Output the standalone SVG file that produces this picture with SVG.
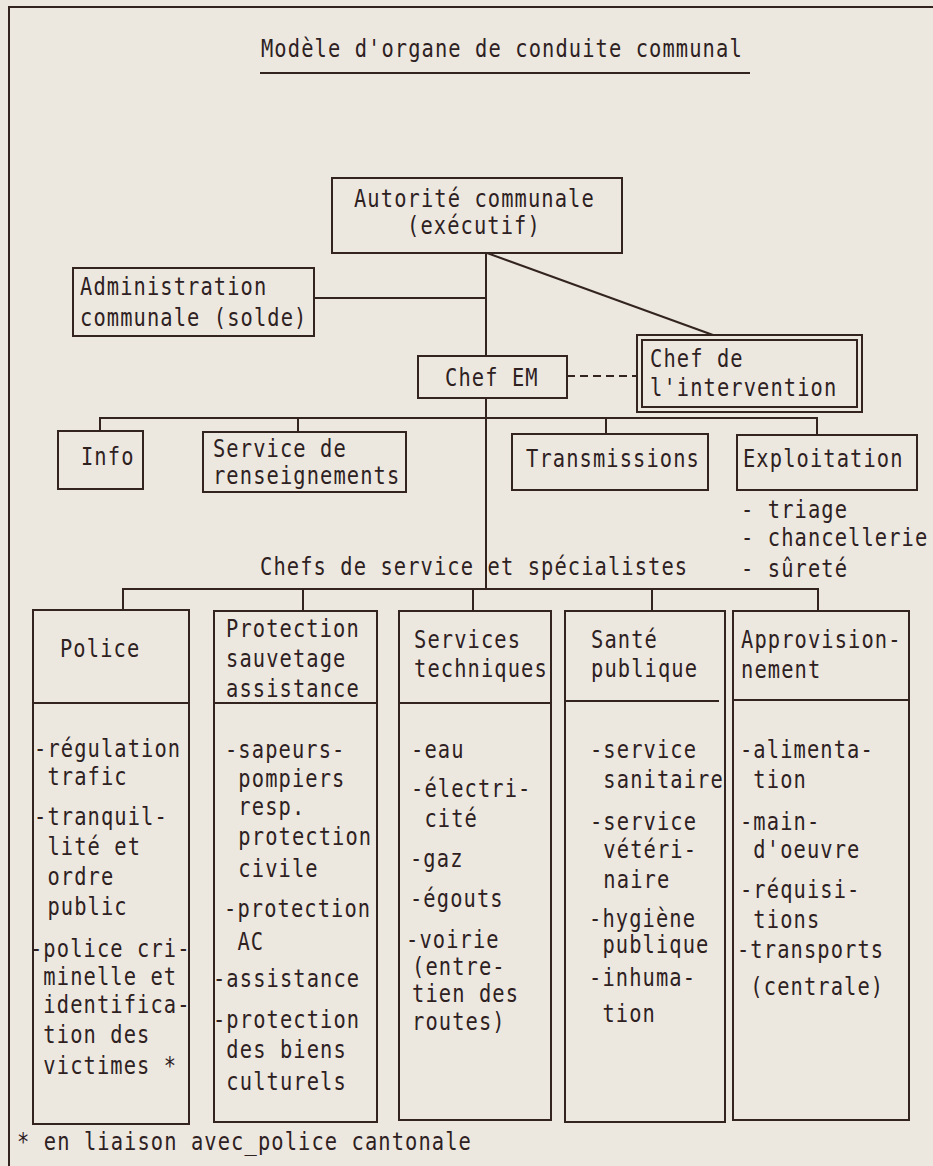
<svg xmlns="http://www.w3.org/2000/svg" width="933" height="1166" viewBox="0 0 933 1166" xml:space="preserve">
<style>
.t{font-family:"DejaVu Sans Mono","Liberation Mono",monospace;font-size:24px;fill:#2e211f;letter-spacing:1.3px;white-space:pre;transform:scaleX(0.85);transform-box:fill-box;transform-origin:0 0}
.b{fill:none;stroke:#33241f;stroke-width:2}
.c{fill:none;stroke:#33241f;stroke-width:2}
.d{stroke-dasharray:8 5}
</style>
<rect x="0" y="0" width="933" height="1166" fill="#ece8df"/>
<g id="frame"><path class="b" d="M9,1166 V7 H933"/></g>
<g id="title">
<text class="t" x="261" y="57">Modèle d'organe de conduite communal</text>
<path class="b" d="M260,73 H750"/>
</g>
<g id="connectors">
<path class="c" d="M486,253 V356 M486,398 V589"/>
<path class="c" d="M314,298 H486"/>
<path class="c" d="M487,253 L713,335"/>
<path class="c d" d="M567,376 H637"/>
<path class="c" d="M100,431 V418 H817 V435 M298,418 V432 M606,418 V434"/>
<path class="c" d="M123,610 V589 H818 V611 M303,589 V611 M473,589 V611 M652,589 V611"/>
</g>
<g id="autorite">
<rect class="b" x="332" y="178" width="290" height="75"/>
<text class="t" x="354" y="207">Autorité communale</text>
<text class="t" x="407" y="234">(exécutif)</text>
</g>
<g id="administration">
<rect class="b" x="73" y="268" width="241" height="68"/>
<text class="t" x="80" y="295">Administration</text>
<text class="t" x="80" y="326">communale (solde)</text>
</g>
<g id="chef-em">
<rect class="b" x="418" y="356" width="149" height="42"/>
<text class="t" x="445" y="386">Chef EM</text>
</g>
<g id="chef-intervention">
<rect class="b" x="637" y="335" width="225" height="77"/>
<rect class="b" x="642" y="340" width="215" height="67"/>
<text class="t" x="650" y="367">Chef de</text>
<text class="t" x="650" y="396">l'intervention</text>
</g>
<g id="info">
<rect class="b" x="58" y="431" width="85" height="58"/>
<text class="t" x="81" y="465">Info</text>
</g>
<g id="renseignements">
<rect class="b" x="203" y="432" width="203" height="60"/>
<text class="t" x="213" y="457">Service de</text>
<text class="t" x="213" y="484">renseignements</text>
</g>
<g id="transmissions">
<rect class="b" x="512" y="434" width="196" height="56"/>
<text class="t" x="526" y="467">Transmissions</text>
</g>
<g id="exploitation">
<rect class="b" x="737" y="435" width="180" height="55"/>
<text class="t" x="743" y="467">Exploitation</text>
<text class="t" x="741" y="518">- triage</text>
<text class="t" x="741" y="546">- chancellerie</text>
<text class="t" x="741" y="577">- sûreté</text>
</g>
<g id="chefs-service">
<text class="t" x="260" y="575">Chefs de service et spécialistes</text>
</g>
<g id="police">
<rect class="b" x="33" y="610" width="156" height="514"/>
<path class="b" d="M33,703 H189"/>
<text class="t" x="60" y="657">Police</text>
<text class="t" x="34" y="757">-régulation</text>
<text class="t" x="34" y="785"> trafic</text>
<text class="t" x="34" y="825">-tranquil-</text>
<text class="t" x="34" y="855"> lité et</text>
<text class="t" x="34" y="885"> ordre</text>
<text class="t" x="34" y="915"> public</text>
<text class="t" x="30" y="957">-police cri-</text>
<text class="t" x="30" y="985"> minelle et</text>
<text class="t" x="30" y="1013"> identifica-</text>
<text class="t" x="30" y="1043"> tion des</text>
<text class="t" x="30" y="1074"> victimes *</text>
</g>
<g id="protection">
<rect class="b" x="214" y="611" width="163" height="511"/>
<path class="b" d="M214,703 H377"/>
<text class="t" x="226" y="637">Protection</text>
<text class="t" x="226" y="667">sauvetage</text>
<text class="t" x="226" y="697">assistance</text>
<text class="t" x="225" y="758">-sapeurs-</text>
<text class="t" x="225" y="787"> pompiers</text>
<text class="t" x="225" y="815"> resp.</text>
<text class="t" x="225" y="845"> protection</text>
<text class="t" x="225" y="877"> civile</text>
<text class="t" x="224" y="917">-protection</text>
<text class="t" x="224" y="950"> AC</text>
<text class="t" x="213" y="987">-assistance</text>
<text class="t" x="213" y="1028">-protection</text>
<text class="t" x="213" y="1058"> des biens</text>
<text class="t" x="213" y="1090"> culturels</text>
</g>
<g id="services-techniques">
<rect class="b" x="399" y="611" width="152" height="509"/>
<path class="b" d="M399,703 H551"/>
<text class="t" x="414" y="648">Services</text>
<text class="t" x="414" y="677">techniques</text>
<text class="t" x="411" y="758">-eau</text>
<text class="t" x="411" y="797">-électri-</text>
<text class="t" x="411" y="827"> cité</text>
<text class="t" x="410" y="867">-gaz</text>
<text class="t" x="410" y="907">-égouts</text>
<text class="t" x="406" y="948">-voirie</text>
<text class="t" x="412" y="975">(entre-</text>
<text class="t" x="412" y="1002">tien des</text>
<text class="t" x="412" y="1030">routes)</text>
</g>
<g id="sante">
<rect class="b" x="565" y="611" width="160" height="511"/>
<path class="b" d="M565,701 H719"/>
<text class="t" x="591" y="648">Santé</text>
<text class="t" x="591" y="677">publique</text>
<text class="t" x="590" y="758">-service</text>
<text class="t" x="590" y="788"> sanitaire</text>
<text class="t" x="590" y="830">-service</text>
<text class="t" x="590" y="858"> vétéri-</text>
<text class="t" x="590" y="888"> naire</text>
<text class="t" x="589" y="927">-hygiène</text>
<text class="t" x="589" y="953"> publique</text>
<text class="t" x="589" y="986">-inhuma-</text>
<text class="t" x="589" y="1022"> tion</text>
</g>
<g id="approvisionnement">
<rect class="b" x="733" y="611" width="176" height="509"/>
<path class="b" d="M733,700 H909"/>
<text class="t" x="741" y="648">Approvision-</text>
<text class="t" x="741" y="678">nement</text>
<text class="t" x="740" y="758">-alimenta-</text>
<text class="t" x="740" y="788"> tion</text>
<text class="t" x="740" y="830">-main-</text>
<text class="t" x="740" y="858"> d'oeuvre</text>
<text class="t" x="740" y="898">-réquisi-</text>
<text class="t" x="740" y="928"> tions</text>
<text class="t" x="737" y="958">-transports</text>
<text class="t" x="737" y="995"> (centrale)</text>
</g>
<g id="footnote">
<text class="t" x="17" y="1150">* en liaison avec_police cantonale</text>
</g>
</svg>
